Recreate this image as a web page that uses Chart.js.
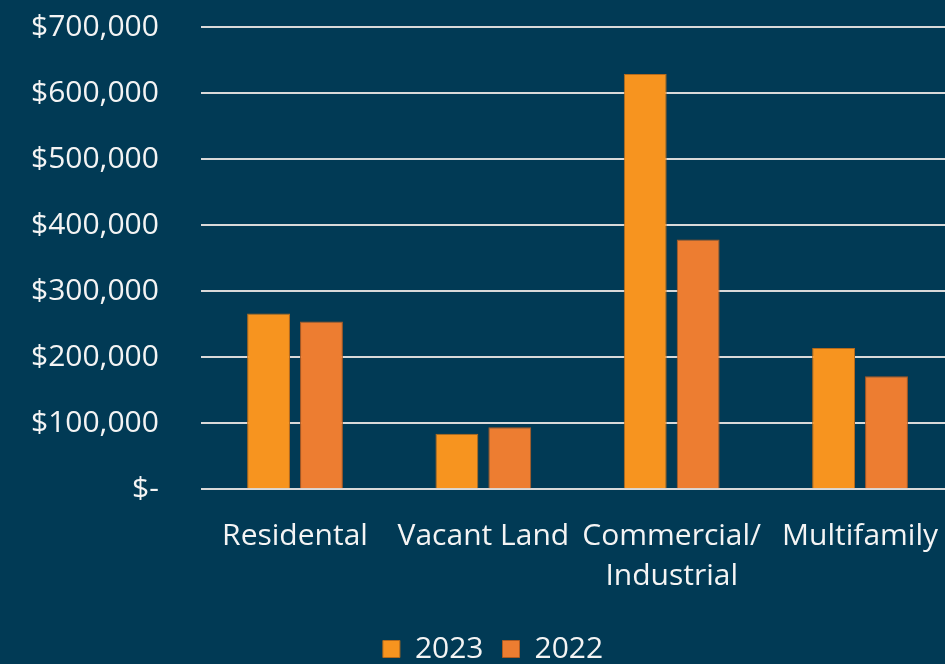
<!DOCTYPE html>
<html>
<head>
<meta charset="utf-8">
<script src="https://cdn.jsdelivr.net/npm/chart.js@4/dist/chart.umd.min.js"></script>
<style>
  html, body { margin: 0; padding: 0; background: #013A55; overflow: hidden; }
  #wrap { width: 945px; height: 664px; overflow: hidden; }
</style>
</head>
<body>
<div id="wrap"><canvas id="chart" width="957" height="664"></canvas></div>
<script>
// values
var categories = ['Residental', 'Vacant Land', ['Commercial/', 'Industrial'], 'Multifamily'];
var values2023 = [266000, 84000, 629000, 214000];
var values2022 = [254000, 94000, 378000, 171000];
var seriesNames = ['2023', '2022'];

var textColor = '#F4F4F4';
Chart.defaults.font.family = '"Open Sans", "Noto Sans", sans-serif';

var ctx = document.getElementById('chart').getContext('2d');
var chart = new Chart(ctx, {
    type: 'bar',
    data: {
        labels: categories,
        datasets: [{
            label: seriesNames[0],
            data: values2023,
            backgroundColor: '#F7941F',
            borderColor: '#B56A1C',
            borderWidth: 1
        }, {
            label: seriesNames[1],
            data: values2022,
            backgroundColor: '#ED7D31',
            borderColor: '#AE5A22',
            borderWidth: 1
        }]
    },
    options: {
        responsive: false,
        animation: false,
        layout: { padding: { top: 27, right: 0, left: 29, bottom: -10 } },
        datasets: {
            bar: { categoryPercentage: 0.562, barPercentage: 0.81 }
        },
        scales: {
            x: {
                grid: { display: false },
                border: { display: false },
                ticks: {
                    color: textColor,
                    font: { size: 30, lineHeight: 1.33 },
                    padding: 19,
                    maxRotation: 0,
                    autoSkip: false
                }
            },
            y: {
                min: 0,
                max: 700000,
                border: { display: false },
                // invisible tick marks give the gap between labels and plot
                grid: { color: '#D9D9D9', lineWidth: 2, tickLength: 40, tickColor: 'rgba(0,0,0,0)' },
                ticks: {
                    stepSize: 100000,
                    color: textColor,
                    font: { size: 30 },
                    padding: 2,
                    callback: function (v) {
                        if (v === 0) return '$-';
                        return '$' + v.toLocaleString('en-US');
                    }
                }
            }
        },
        plugins: {
            legend: {
                position: 'bottom',
                labels: {
                    color: textColor,
                    font: { size: 30 },
                    boxWidth: 17,
                    boxHeight: 17,
                    padding: 19
                }
            },
            tooltip: { enabled: false }
        }
    }
});
</script>
</body>
</html>
